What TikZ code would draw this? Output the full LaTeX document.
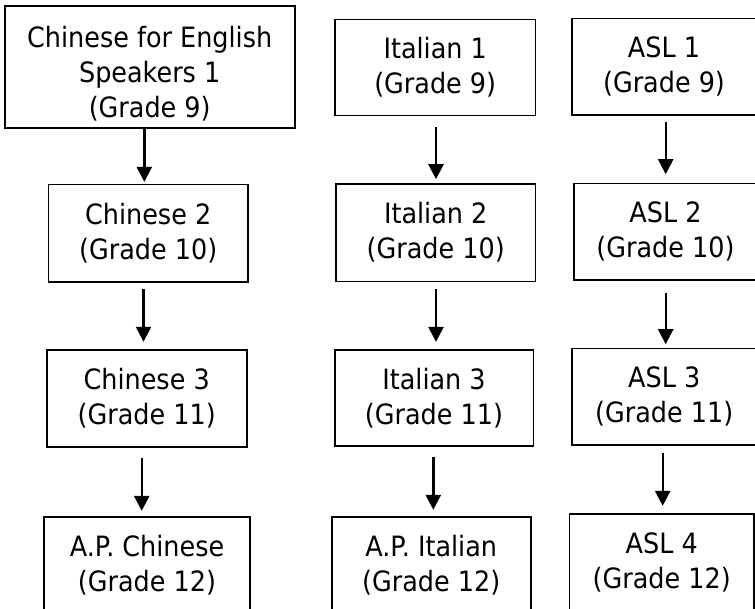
\documentclass[tikz,border=0pt]{standalone}
\usepackage{fontspec}
\setmainfont{DejaVu Sans}[FakeStretch=0.91]
\usetikzlibrary{arrows.meta,calc}
\tikzset{
  box/.style={draw, line width=1.7pt, inner sep=0pt, align=center,
    font=\fontsize{28}{35}\selectfont,
    execute at begin node={\rule{0pt}{26pt}}},
  txt/.style={inner sep=0pt, align=center, font=\fontsize{28}{35}\selectfont},
  arr/.style={line width=2.4pt, -{Triangle[length=15pt,width=15pt]}}
}
\begin{document}
\begin{tikzpicture}[x=1pt,y=-1pt]
\fill[white] (0,0) rectangle (755,608);
\useasboundingbox (0,0) rectangle (755,608);

% Chinese column
\node[draw, line width=1.7pt, inner sep=0pt, minimum width=290pt, minimum height=122pt] (c1) at (149.7,67) {};
\node[txt] (c1t) at ($(c1.center)+(0,6.5)$) {Chinese for English\\Speakers 1\\(Grade 9)};
\node[box, minimum width=199.7pt, minimum height=97.7pt] (c2) at (148.2,233.2) {Chinese 2\\(Grade 10)};
\node[box, minimum width=200pt, minimum height=96.7pt] (c3) at (146.7,398.3) {Chinese 3\\(Grade 11)};
\node[box, minimum width=206pt, minimum height=98pt] (c4) at (147,565.7) {A.P. Chinese\\(Grade 12)};

% Italian column
\node[box, minimum width=200.3pt, minimum height=96pt] (i1) at (435.2,67.5) {Italian 1\\(Grade 9)};
\node[box, minimum width=199.3pt, minimum height=97.3pt] (i2) at (435.7,232.7) {Italian 2\\(Grade 10)};
\node[box, minimum width=198.7pt, minimum height=96pt] (i3) at (434,398) {Italian 3\\(Grade 11)};
\node[box, minimum width=199pt, minimum height=97pt] (i4) at (431.2,565.2) {A.P. Italian\\(Grade 12)};

% ASL column
\node[box, minimum width=184pt, minimum height=96.7pt] (a1) at (664,66.7) {ASL 1\\(Grade 9)};
\node[box, minimum width=183pt, minimum height=96.7pt] (a2) at (665.5,231.7) {ASL 2\\(Grade 10)};
\node[box, minimum width=184pt, minimum height=96.7pt] (a3) at (664.2,396.7) {ASL 3\\(Grade 11)};
\node[box, minimum width=184.7pt, minimum height=97pt] (a4) at (661.7,562.8) {ASL 4\\(Grade 12)};

% arrows
\draw[arr] ($(c1.south)+(-5.4,0)$) -- ($(c1.south |- c2.north)+(-5.4,-1.6)$);
\draw[arr] ($(c2.south)+(-4.7,6)$) -- ($(c2.south |- c3.north)+(-4.7,-7.3)$);
\draw[arr] ($(c3.south)+(-5,10.7)$) -- ($(c3.south |- c4.north)+(-5,-5)$);

\draw[arr] ($(i1.south)+(0.8,10.5)$) -- ($(i1.south |- i2.north)+(0.8,-4)$);
\draw[arr] ($(i2.south)+(0.3,6.6)$) -- ($(i2.south |- i3.north)+(0.3,-7.3)$);
\draw[arr] ($(i3.south)+(-0.7,10)$) -- ($(i3.south |- i4.north)+(-0.7,-6)$);

\draw[arr] ($(a1.south)+(1.7,5.6)$) -- ($(a1.south |- a2.north)+(1.7,-8.3)$);
\draw[arr] ($(a2.south)+(0.2,11.6)$) -- ($(a2.south |- a3.north)+(0.2,-3.3)$);
\draw[arr] ($(a3.south)+(-1.5,6.6)$) -- ($(a3.south |- a4.north)+(-1.5,-7.6)$);
\end{tikzpicture}
\end{document}
